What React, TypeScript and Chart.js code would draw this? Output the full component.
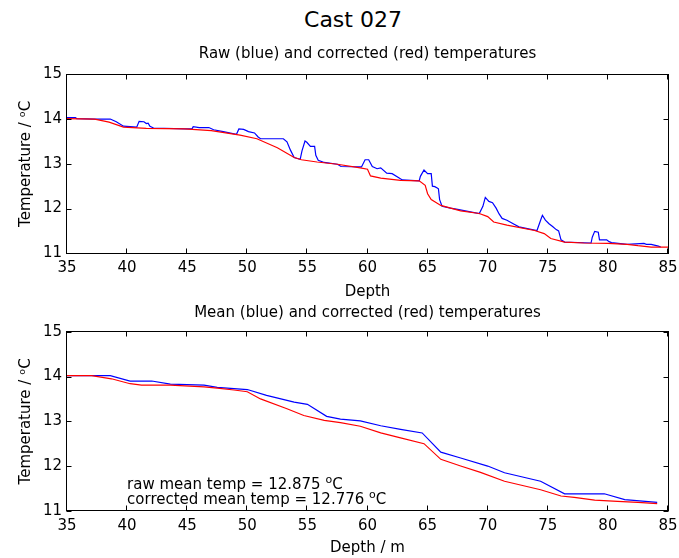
import { useEffect, useRef } from "react";
import { Chart, registerables } from "chart.js";

Chart.register(...registerables);

const FONT = "'DejaVu Sans', 'Liberation Sans', sans-serif";

// ---------- Top subplot: raw (blue) and corrected (red) ----------
const rawDepth = [35, 35.7, 35.8, 37.3, 38.6, 39.1, 39.7, 40.8, 41.0, 41.4, 41.6, 41.75, 41.9, 42.2, 44.8, 45.4, 45.5, 46.0, 46.8, 47.2, 48.0, 49.1, 49.3, 49.7, 50.1, 50.6, 50.9, 51.1, 53.0, 53.3, 53.6, 53.9, 54.4, 54.55, 54.8, 54.95, 55.25, 55.6, 55.7, 55.9, 56.4, 57.5, 57.8, 59.5, 59.8, 60.1, 60.4, 60.8, 61.1, 61.6, 62.05, 62.9, 64.3, 64.4, 64.7, 65.0, 65.3, 65.4, 65.6, 65.8, 65.9, 66.0, 66.2, 66.9, 67.5, 69.3, 69.6, 69.8, 70.1, 70.4, 70.7, 70.95, 71.2, 71.6, 72.2, 72.6, 74.1, 74.4, 74.55, 74.8, 75.1, 75.4, 75.7, 75.9, 76.1, 76.4, 78.6, 78.7, 78.9, 79.2, 79.3, 79.9, 80.1, 80.3, 81.6, 83.0, 83.2, 83.6, 84.2, 84.4];
const rawTemp = [14.03, 14.03, 14.01, 14.0, 14.0, 13.94, 13.84, 13.82, 13.95, 13.94, 13.9, 13.91, 13.84, 13.8, 13.78, 13.78, 13.83, 13.81, 13.81, 13.76, 13.72, 13.66, 13.78, 13.77, 13.72, 13.69, 13.6, 13.56, 13.56, 13.49, 13.3, 13.14, 13.1, 13.29, 13.51, 13.48, 13.39, 13.39, 13.19, 13.08, 13.03, 12.99, 12.94, 12.93, 13.09, 13.09, 12.94, 12.89, 12.91, 12.79, 12.78, 12.64, 12.62, 12.72, 12.86, 12.78, 12.78, 12.5, 12.49, 12.46, 12.44, 12.2, 12.05, 12.01, 11.98, 11.89, 12.05, 12.25, 12.16, 12.13, 12.01, 11.88, 11.78, 11.74, 11.65, 11.59, 11.51, 11.74, 11.85, 11.74, 11.66, 11.6, 11.53, 11.5, 11.3, 11.25, 11.23, 11.36, 11.49, 11.47, 11.3, 11.3, 11.26, 11.24, 11.2, 11.22, 11.2, 11.2, 11.16, 11.14];

const corrDepth = [35, 37.3, 38.5, 39.7, 41.6, 44.8, 47.0, 49.4, 50.8, 52.5, 53.9, 54.5, 55.8, 57.5, 59.4, 60.0, 60.25, 61.1, 62.75, 64.3, 64.8, 65.0, 65.3, 66.1, 67.75, 69.3, 70.0, 70.5, 71.6, 73.9, 74.7, 75.25, 76.4, 78.0, 80.0, 81.6, 82.5, 83.6, 85];
const corrTemp = [14.01, 14.0, 13.93, 13.82, 13.79, 13.78, 13.74, 13.64, 13.56, 13.36, 13.14, 13.09, 13.04, 12.99, 12.91, 12.88, 12.73, 12.68, 12.63, 12.62, 12.52, 12.33, 12.2, 12.07, 11.95, 11.89, 11.82, 11.7, 11.63, 11.51, 11.44, 11.33, 11.25, 11.23, 11.22, 11.2, 11.17, 11.14, 11.14];

// ---------- Bottom subplot: mean (blue) and corrected (red) ----------
const meanDepth = [35, 37.05, 38.6, 40.25, 42.05, 43.6, 46.4, 47.5, 50.0, 51.6, 53.9, 55.0, 56.6, 57.75, 59.4, 61.1, 62.75, 64.55, 66.1, 67.75, 70.0, 71.4, 74.4, 76.4, 79.7, 81.4, 84.1];
const meanTemp = [14.02, 14.02, 14.02, 13.9, 13.9, 13.83, 13.81, 13.76, 13.71, 13.58, 13.43, 13.38, 13.11, 13.05, 13.01, 12.9, 12.82, 12.74, 12.31, 12.18, 12.0, 11.85, 11.66, 11.38, 11.38, 11.25, 11.19];

const meanCorrDepth = [35, 37.05, 38.7, 40.25, 41.2, 43.6, 46.4, 47.5, 48.9, 50.0, 51.1, 53.3, 54.7, 56.4, 57.75, 59.4, 61.1, 62.75, 64.7, 66.1, 67.75, 69.4, 71.4, 74.4, 76.1, 77.2, 78.9, 80.8, 82.5, 84.1];
const meanCorrTemp = [14.02, 14.02, 13.95, 13.84, 13.81, 13.81, 13.77, 13.74, 13.7, 13.66, 13.5, 13.28, 13.13, 13.02, 12.97, 12.89, 12.74, 12.63, 12.5, 12.15, 12.0, 11.86, 11.66, 11.47, 11.33, 11.3, 11.24, 11.21, 11.19, 11.16];

// ---------- Axes / labels ----------
const depthMin = 35;
const depthMax = 85;
const depthStep = 5;
const tempMin = 11;
const tempMax = 15;
const tempStep = 1;

const figTitle = "Cast 027";
const topTitle = "Raw (blue) and corrected (red) temperatures";
const bottomTitle = "Mean (blue) and corrected (red) temperatures";
const topXLabel = "Depth";
const bottomXLabel = "Depth / m";
const yLabel = "Temperature / \u1D52C";

const annotLines = ["raw mean temp = 12.875 ", "corrected mean temp = 12.776 "];
const annotX = 40;
const annotY = [11.6, 11.28];

const pts = (xs: number[], ys: number[]) => xs.map((x, i) => ({ x, y: ys[i] }));

const matlabAxes = {
  id: "matlabAxes",
  afterDatasetsDraw(chart: any) {
    const { ctx, chartArea: a, scales } = chart;
    const L = Math.floor(a.left) - 0.5;
    const R = Math.floor(a.right) + 0.5;
    const T = Math.floor(a.top) + 0.5;
    const B = Math.floor(a.bottom) + 0.5;
    ctx.save();
    ctx.strokeStyle = "#000";
    ctx.lineWidth = 1;
    ctx.strokeRect(L, T, R - L, B - T);
    const len = 5;
    ctx.beginPath();
    scales.x.ticks.forEach((t: any) => {
      const px = Math.round(scales.x.getPixelForValue(t.value)) - 0.5;
      ctx.moveTo(px, B);
      ctx.lineTo(px, B - len);
      ctx.moveTo(px, T);
      ctx.lineTo(px, T + len);
    });
    scales.y.ticks.forEach((t: any) => {
      const py = Math.round(scales.y.getPixelForValue(t.value)) + 0.5;
      ctx.moveTo(L, py);
      ctx.lineTo(L + len, py);
      ctx.moveTo(R, py);
      ctx.lineTo(R - len, py);
    });
    ctx.stroke();
    ctx.restore();
  },
};

const annotPlugin = {
  id: "annot",
  afterDatasetsDraw(chart: any) {
    const { ctx, scales } = chart;
    ctx.save();
    ctx.fillStyle = "#000";
    ctx.textBaseline = "alphabetic";
    ctx.textAlign = "left";
    annotLines.forEach((txt, i) => {
      const x = scales.x.getPixelForValue(annotX);
      const y = scales.y.getPixelForValue(annotY[i]) + 5.5;
      ctx.font = `15px ${FONT}`;
      ctx.fillText(txt, x, y);
      const w = ctx.measureText(txt).width;
      ctx.font = `11px ${FONT}`;
      ctx.fillText("o", x + w, y - 6);
      const w2 = ctx.measureText("o").width;
      ctx.font = `15px ${FONT}`;
      ctx.fillText("C", x + w + w2, y);
    });
    ctx.restore();
  },
};

function makeScales(xLabel: string, xHeight: number, xTitlePad: number) {
  return {
    x: {
      type: "linear",
      min: depthMin,
      max: depthMax,
      ticks: { stepSize: depthStep, padding: 6, color: "#000", font: { family: FONT, size: 15 }, maxRotation: 0, autoSkip: false },
      grid: { display: false, drawTicks: false },
      border: { display: false },
      title: { display: true, text: xLabel, color: "#000", font: { family: FONT, size: 15, lineHeight: 1 }, padding: { top: 0, bottom: xTitlePad } },
      afterFit: (s: any) => {
        s.height = xHeight;
        s.paddingLeft = 0;
        s.paddingRight = 0;
      },
    },
    y: {
      type: "linear",
      min: tempMin,
      max: tempMax,
      ticks: { stepSize: tempStep, padding: 5, color: "#000", font: { family: FONT, size: 15 } },
      grid: { display: false, drawTicks: false },
      border: { display: false },
      title: { display: true, text: yLabel, color: "#000", font: { family: FONT, size: 15, lineHeight: 1 }, padding: { top: 19, bottom: 0 } },
      afterFit: (s: any) => {
        s.width = 67;
        s.paddingTop = 0;
        s.paddingBottom = 0;
      },
    },
  };
}

function makeConfig(opts: {
  blue: { x: number; y: number }[];
  red: { x: number; y: number }[];
  title: string;
  titlePadTop: number;
  titlePadBottom: number;
  xLabel: string;
  xHeight: number;
  xTitlePad: number;
  extra: any[];
}): any {
  return {
    type: "line",
    data: {
      datasets: [
        { data: opts.red, borderColor: "#ff0000", borderWidth: 1.2, pointRadius: 0, fill: false, tension: 0 },
        { data: opts.blue, borderColor: "#0000ff", borderWidth: 1.2, pointRadius: 0, fill: false, tension: 0 },
      ],
    },
    options: {
      responsive: false,
      animation: false,
      events: [],
      layout: { padding: { left: 0, right: 11, top: 0, bottom: 0 } },
      plugins: {
        legend: { display: false },
        tooltip: { enabled: false },
        title: {
          display: true,
          text: opts.title,
          fullSize: false,
          color: "#000",
          font: { family: FONT, size: 15, weight: "normal", lineHeight: 1 },
          padding: { top: opts.titlePadTop, bottom: opts.titlePadBottom },
        },
      },
      scales: makeScales(opts.xLabel, opts.xHeight, opts.xTitlePad),
    },
    plugins: [matlabAxes, ...opts.extra],
  };
}

export default function App() {
  const topRef = useRef<HTMLCanvasElement>(null);
  const botRef = useRef<HTMLCanvasElement>(null);

  useEffect(() => {
    const c1 = new Chart(
      topRef.current!,
      makeConfig({
        blue: pts(rawDepth, rawTemp),
        red: pts(corrDepth, corrTemp),
        title: topTitle,
        titlePadTop: 46.5,
        titlePadBottom: 12.8,
        xLabel: topXLabel,
        xHeight: 300 - 253.3,
        xTitlePad: 0.5,
        extra: [],
      })
    );
    const c2 = new Chart(
      botRef.current!,
      makeConfig({
        blue: pts(meanDepth, meanTemp),
        red: pts(meanCorrDepth, meanCorrTemp),
        title: bottomTitle,
        titlePadTop: 5.5,
        titlePadBottom: 11.3,
        xLabel: bottomXLabel,
        xHeight: 258 - 210.8,
        xTitlePad: 2.5,
        extra: [annotPlugin],
      })
    );
    return () => {
      c1.destroy();
      c2.destroy();
    };
  }, []);

  return (
    <div style={{ position: "absolute", left: 0, top: 0, width: 679, height: 558, background: "#fff", overflow: "hidden" }}>
      <div
        style={{
          position: "absolute",
          left: 253,
          top: 6,
          width: 200,
          textAlign: "center",
          fontFamily: FONT,
          fontSize: 22,
          lineHeight: "28px",
          color: "#000",
        }}
      >
        {figTitle}
      </div>
      <canvas ref={topRef} width={679} height={300} style={{ position: "absolute", left: 0, top: 0 }} />
      <canvas ref={botRef} width={679} height={258} style={{ position: "absolute", left: 0, top: 300 }} />
    </div>
  );
}
